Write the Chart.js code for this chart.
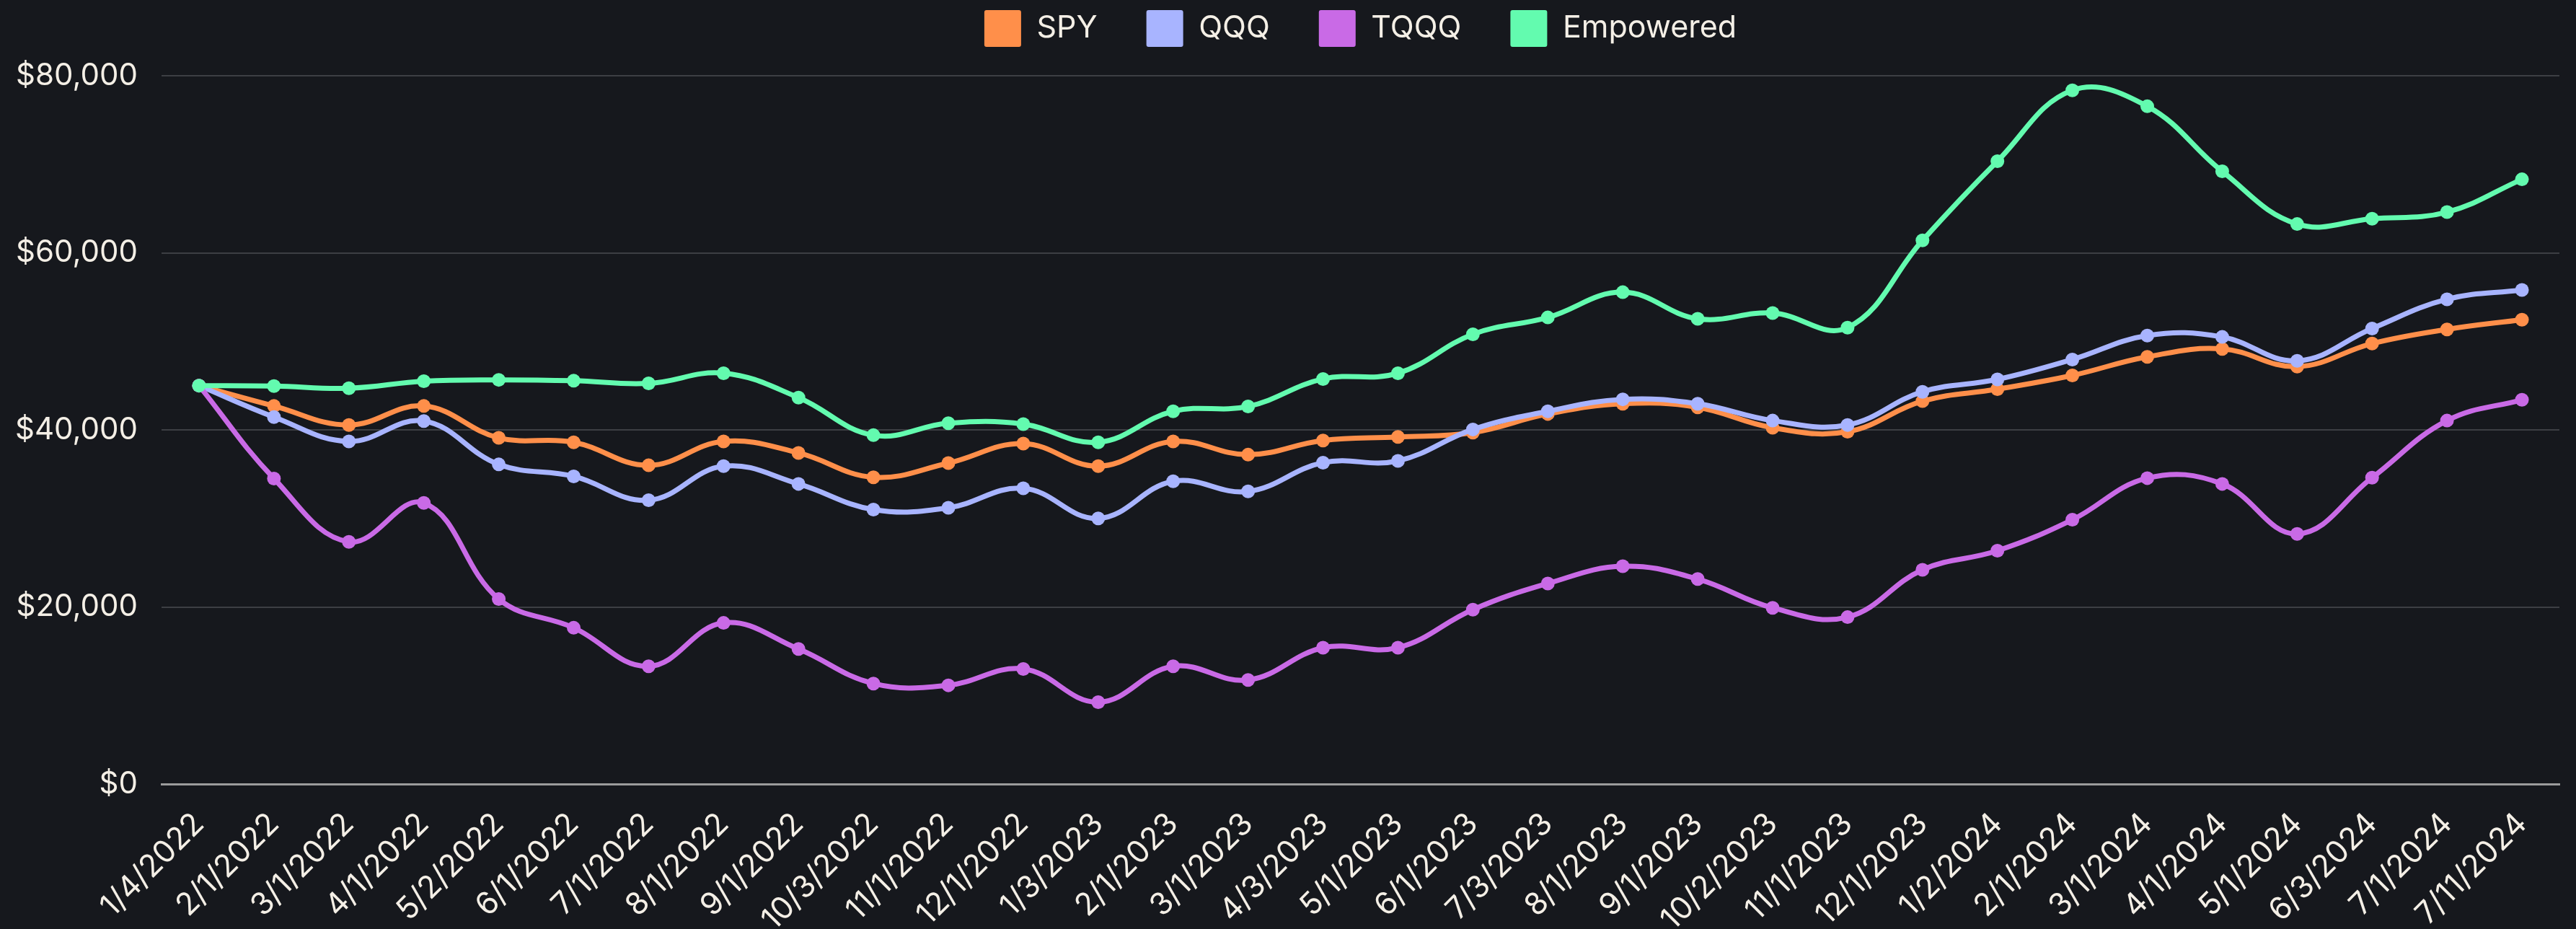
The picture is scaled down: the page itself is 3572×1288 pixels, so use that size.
<!DOCTYPE html>
<html>
<head>
<meta charset="utf-8">
<script src="https://cdn.jsdelivr.net/npm/chart.js@4.4.1/dist/chart.umd.min.js"></script>
<style>
  html, body { margin: 0; padding: 0; background: #16181d; }
  #wrap { width: 3572px; height: 1288px; }
</style>
</head>
<body>
<div id="wrap"><canvas id="c" width="3572" height="1288"></canvas></div>
<script>
const labels = ['1/4/2022','2/1/2022','3/1/2022','4/1/2022','5/2/2022','6/1/2022','7/1/2022','8/1/2022','9/1/2022','10/3/2022','11/1/2022','12/1/2022',
  '1/3/2023','2/1/2023','3/1/2023','4/3/2023','5/1/2023','6/1/2023','7/3/2023','8/1/2023','9/1/2023','10/2/2023','11/1/2023','12/1/2023',
  '1/2/2024','2/1/2024','3/1/2024','4/1/2024','5/1/2024','6/3/2024','7/1/2024','7/11/2024'];

const spy = [45000,42700,40550,42700,39100,38600,36000,38700,37400,34650,36250,38450,
  35900,38700,37200,38800,39200,39700,41800,42950,42550,40250,39800,
  43250,44600,46150,48250,49150,47150,49750,51350,52450];

const qqq = [45000,41450,38700,41000,36100,34750,32050,35900,33900,31000,31200,33400,
  30000,34200,33050,36300,36500,40050,42100,43450,42950,41050,40550,
  44300,45700,47950,50650,50500,47800,51450,54750,55800];

const tqqq = [45000,34500,27350,31750,20900,17650,13300,18200,15250,11350,11150,13000,
  9250,13300,11750,15400,15400,19700,22650,24600,23150,19900,18850,
  24200,26350,29850,34550,33900,28250,34600,41050,43400];

const empowered = [45000,44950,44700,45500,45650,45550,45250,46400,43650,39400,40750,40650,
  38600,42100,42650,45750,46400,50800,52700,55550,52550,53200,51550,
  61400,70350,78350,76550,69200,63250,63850,64600,68300];

const yTicks = [0, 20000, 40000, 60000, 80000];

const seriesNames = ['SPY', 'QQQ', 'TQQQ', 'Empowered'];
const seriesColors = ['#ff8f4a', '#a8b4ff', '#c96ae6', '#63fbaf'];
const seriesData = [spy, qqq, tqqq, empowered];

const textColor = '#f4efe6';
const FONT = 'Inter, "Open Sans", "DejaVu Sans", sans-serif';

const datasets = seriesNames.map((name, i) => ({
  label: name,
  data: seriesData[i],
  borderColor: seriesColors[i],
  backgroundColor: seriesColors[i],
  pointBackgroundColor: seriesColors[i],
  pointBorderWidth: 0,
  pointRadius: 9.5,
  borderWidth: 7,
  tension: 0.4,
  order: seriesNames.length - i
}));

const legendPad = {
  id: 'legendPad',
  beforeUpdate(chart) {
    const lg = chart.legend;
    if (lg && !lg._padded) {
      const fit = lg.fit;
      lg.fit = function () { fit.call(this); this.height += 30; };
      lg._padded = true;
    }
  }
};

new Chart(document.getElementById('c'), {
  type: 'line',
  data: { labels: labels, datasets: datasets },
  plugins: [legendPad],
  options: {
    responsive: false,
    animation: false,
    devicePixelRatio: 1,
    layout: { padding: { top: -54, left: 0, right: 23, bottom: 0 } },
    plugins: {
      tooltip: { enabled: false },
      legend: {
        display: true,
        position: 'top',
        fullSize: false,
        labels: {
          color: textColor,
          font: { family: FONT, size: 43 },
          boxWidth: 51,
          boxHeight: 51,
          padding: 68,
          useBorderRadius: true,
          borderRadius: 3,
          sort: (a, b) => a.datasetIndex - b.datasetIndex,
          generateLabels: (chart) => Chart.defaults.plugins.legend.labels.generateLabels(chart)
            .map(l => Object.assign(l, { lineWidth: 0 }))
        }
      }
    },
    scales: {
      x: {
        offset: true,
        grid: { display: false, drawTicks: false },
        border: { display: true, color: '#9c9c9c', width: 3 },
        ticks: {
          color: textColor,
          font: { family: FONT, size: 43 },
          autoSkip: false,
          minRotation: 45,
          maxRotation: 45,
          padding: 30
        },
        afterFit: (s) => { s.height = 201; }
      },
      y: {
        min: 0,
        max: 80000,
        afterBuildTicks: (s) => { s.ticks = yTicks.map(v => ({ value: v })); },
        grid: { color: '#3d3f44', lineWidth: 2, drawTicks: false },
        border: { display: false },
        ticks: {
          color: textColor,
          font: { family: FONT, size: 42 },
          padding: 33,
          callback: (v) => '$' + Number(v).toLocaleString('en-US')
        },
        afterFit: (s) => { s.width = 224; }
      }
    }
  }
});
</script>
</body>
</html>
